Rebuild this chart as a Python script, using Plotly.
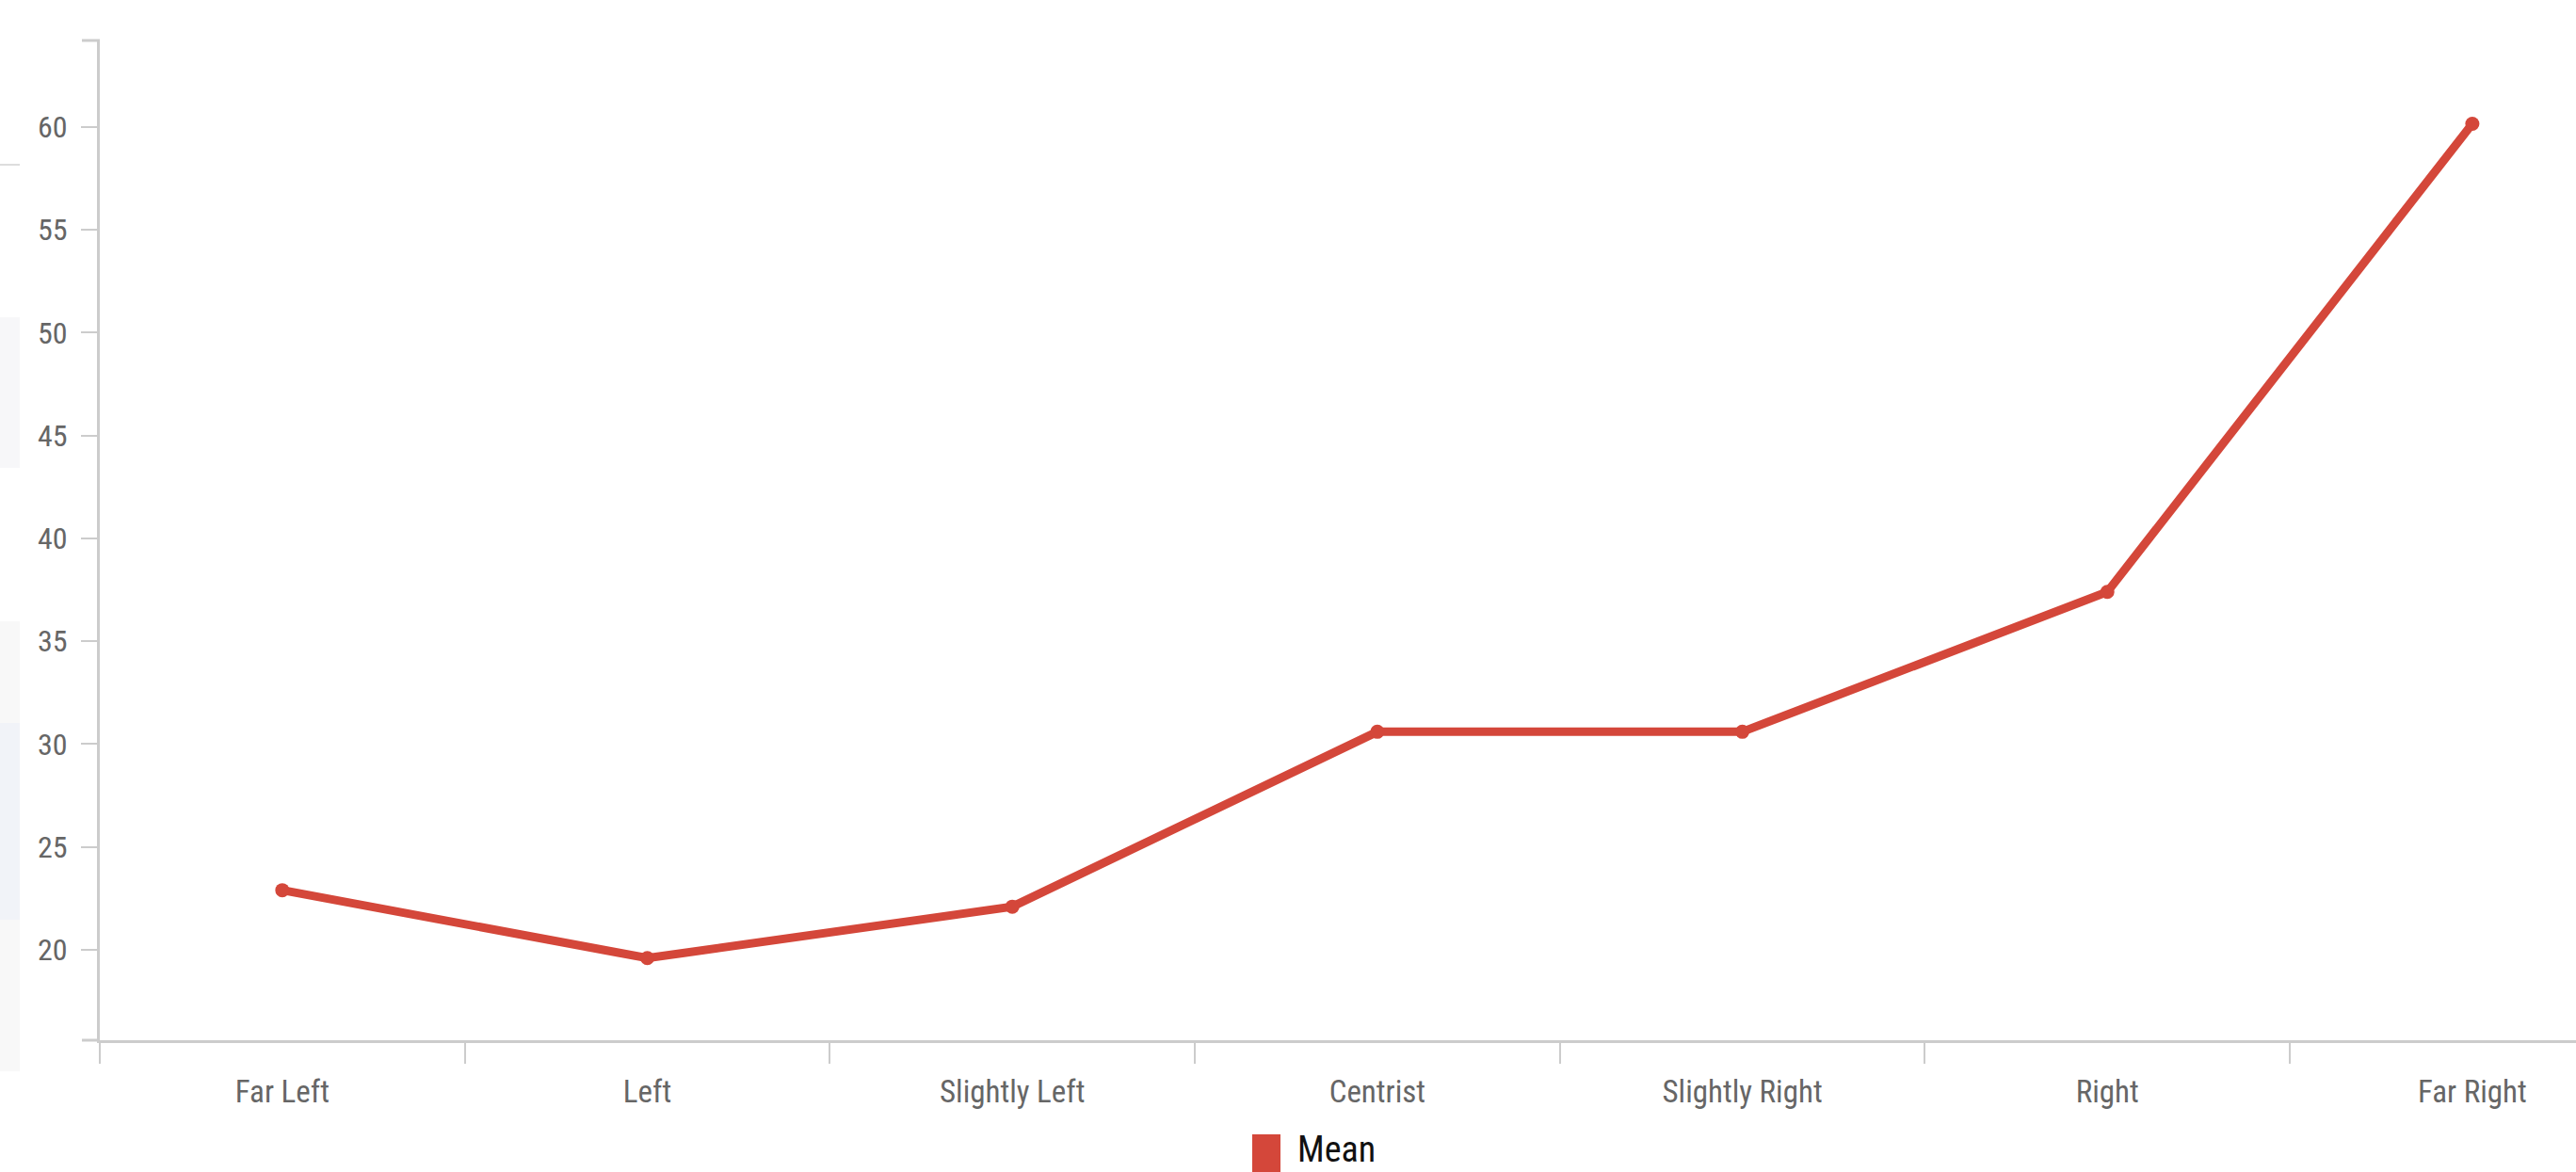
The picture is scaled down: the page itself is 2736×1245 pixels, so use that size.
import plotly.graph_objects as go

# Mean score by political self-placement
categories = ["Far Left", "Left", "Slightly Left", "Centrist", "Slightly Right", "Right", "Far Right"]
mean_values = [22.9, 19.6, 22.1, 30.6, 30.6, 37.4, 60.15]
y_ticks = [20, 25, 30, 35, 40, 45, 50, 55, 60]
series_name = "Mean"

RED = "#D4473A"
AXIS_GREY = "#CCCCCC"
LABEL_GREY = "#666666"
FONT = "Liberation Sans Narrow, Roboto Condensed, Liberation Sans, Arial, sans-serif"

W, H = 2736, 1245
M_L, M_R, M_T, M_B = 106, 0, 43, 140
PW, PH = W - M_L - M_R, H - M_T - M_B


def px_x(px):
    return (px - M_L) / PW


def px_y(py):
    return (H - M_B - py) / PH


fig = go.Figure()

fig.add_trace(go.Scatter(
    x=categories, y=mean_values, mode="lines+markers", name=series_name,
    line=dict(color=RED, width=9),
    marker=dict(color=RED, size=15),
    showlegend=False,
))

shapes = []
# faint page panels at the far left edge
panels = [
    (337, 497, "#F7F7F9"),
    (660, 768, "#F8F8F8"),
    (768, 977, "#F1F3F8"),
    (977, 1138, "#F8F8F8"),
]
for y0, y1, col in panels:
    shapes.append(dict(type="rect", xref="paper", yref="paper",
                       x0=px_x(0), x1=px_x(21), y0=px_y(y1), y1=px_y(y0),
                       fillcolor=col, line=dict(width=0), layer="below"))
shapes.append(dict(type="line", xref="paper", yref="paper",
                   x0=px_x(0), x1=px_x(21), y0=px_y(175), y1=px_y(175),
                   line=dict(color="#DDDDDD", width=2)))
# end ticks of the y-axis at the top and bottom of its range
for yp in (0, 1):
    shapes.append(dict(type="line", xref="paper", yref="paper",
                       x0=px_x(87), x1=0, y0=yp, y1=yp,
                       line=dict(color=AXIS_GREY, width=3)))

# legend: square swatch + label centred under the plot
shapes.append(dict(type="rect", xref="paper", yref="paper",
                   x0=px_x(1330), x1=px_x(1360), y0=px_y(1250), y1=px_y(1205),
                   fillcolor=RED, line=dict(width=0)))
annotations = [dict(
    xref="paper", yref="paper", x=px_x(1376), y=px_y(1221),
    xanchor="left", yanchor="middle", showarrow=False, text=series_name,
    font=dict(family=FONT, size=38, color="#111111"),
)]

fig.update_layout(
    width=W, height=H,
    margin=dict(l=M_L, r=M_R, t=M_T, b=M_B, pad=0),
    paper_bgcolor="white", plot_bgcolor="white",
    shapes=shapes, annotations=annotations,
    showlegend=False,
    xaxis=dict(
        type="category", categoryorder="array", categoryarray=categories,
        range=[-0.5, 6.284],
        showgrid=False, zeroline=False,
        showline=True, linecolor=AXIS_GREY, linewidth=3,
        ticks="outside", tickson="boundaries", ticklen=22, tickcolor=AXIS_GREY, tickwidth=2,
        ticklabelstandoff=23,
        tickfont=dict(family=FONT, size=33, color=LABEL_GREY),
    ),
    yaxis=dict(
        range=[15.61, 64.2],
        tickmode="array", tickvals=y_ticks, ticktext=[str(v) for v in y_ticks],
        showgrid=False, zeroline=False,
        showline=True, linecolor=AXIS_GREY, linewidth=3,
        ticks="outside", ticklen=17, tickcolor=AXIS_GREY, tickwidth=2,
        ticklabelstandoff=8,
        tickfont=dict(family=FONT, size=32, color=LABEL_GREY),
    ),
)

fig.write_html("out.html")
